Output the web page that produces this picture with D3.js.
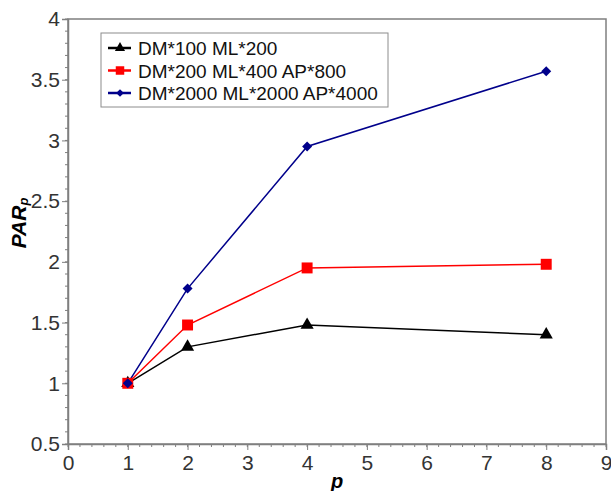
<!DOCTYPE html>
<html>
<head>
<meta charset="utf-8">
<script src="https://cdnjs.cloudflare.com/ajax/libs/d3/7.8.5/d3.min.js"></script>
<style>
  body { margin: 0; background: #fff; }
  text { font-family: "Liberation Sans", Arial, sans-serif; }
</style>
</head>
<body>
<div id="chart"></div>
<script>
// data
let pValues = [1, 2, 4, 8]
let seriesNames = ["DM*100 ML*200", "DM*200 ML*400 AP*800", "DM*2000 ML*2000 AP*4000"]
let seriesColors = ["#000000", "#ff0000", "#00008b"]
let blackVals = [1, 1.30, 1.48, 1.40]
let redVals = [1, 1.48, 1.95, 1.98]
let blueVals = [1, 1.78, 2.95, 3.57]
let xTicks = [0, 1, 2, 3, 4, 5, 6, 7, 8, 9]
let yTicks = [0.5, 1, 1.5, 2, 2.5, 3, 3.5, 4]

let width = 611, height = 491
let margin = {left: 68, top: 19, right: 5, bottom: 47}

let svg = d3.select("#chart").append("svg")
  .attr("width", width).attr("height", height)

let x = d3.scaleLinear().domain([0, 9]).range([margin.left, width - margin.right])
let y = d3.scaleLinear().domain([0.5, 4]).range([height - margin.bottom, margin.top])

let axisColor = "#7f7f7f"

// frame
svg.append("rect")
  .attr("x", x(0)).attr("y", y(4))
  .attr("width", x(9) - x(0)).attr("height", y(0.5) - y(4))
  .attr("fill", "none").attr("stroke", axisColor).attr("stroke-width", 1.5)

// minor ticks
let xMinor = d3.range(0, 9.001, 0.2)
let yMinor = d3.range(0.5, 4.001, 0.1)
svg.append("g").selectAll("line").data(xMinor).join("line")
  .attr("x1", d => x(d)).attr("x2", d => x(d))
  .attr("y1", y(0.5)).attr("y2", y(0.5) + 3)
  .attr("stroke", axisColor)
svg.append("g").selectAll("line").data(yMinor).join("line")
  .attr("x1", x(0) - 3).attr("x2", x(0))
  .attr("y1", d => y(d)).attr("y2", d => y(d))
  .attr("stroke", axisColor)

// axes
let xAxis = svg.append("g")
  .attr("transform", `translate(0,${y(0.5)})`)
  .call(d3.axisBottom(x).tickValues(xTicks).tickSize(6).tickPadding(5).tickFormat(d3.format("d")))
let yAxis = svg.append("g")
  .attr("transform", `translate(${x(0)},0)`)
  .call(d3.axisLeft(y).tickValues(yTicks).tickSize(6).tickPadding(2).tickFormat(d => d))
for (let g of [xAxis, yAxis]) {
  g.select(".domain").attr("stroke", axisColor).attr("stroke-width", 1.5)
  g.selectAll(".tick line").attr("stroke", axisColor)
  g.selectAll(".tick text").attr("fill", "#333").style("font-size", "21px")
    .style("font-family", "Liberation Sans, Arial, sans-serif")
}

// axis titles
svg.append("text")
  .attr("x", x(4.5)).attr("y", 488)
  .attr("text-anchor", "middle")
  .style("font-size", "20px").style("font-weight", "bold").style("font-style", "italic")
  .text("p")
let yt = svg.append("text")
  .attr("transform", "translate(26,223) rotate(-90)")
  .attr("text-anchor", "middle")
  .style("font-size", "21px").style("font-weight", "bold").style("font-style", "italic")
yt.append("tspan").text("PAR")
yt.append("tspan").attr("dy", 2).style("font-size", "13px").text("p")

// series
let allSeries = [blackVals, redVals, blueVals]
let symbols = [d3.symbolTriangle, d3.symbolSquare, d3.symbolSquare]
let symRot = [0, 0, 45]
let symSizes = [75, 120, 50]
let line = d3.line().x((d, i) => x(pValues[i])).y(d => y(d))

allSeries.forEach((vals, k) => {
  svg.append("path").datum(vals)
    .attr("d", line).attr("fill", "none")
    .attr("stroke", seriesColors[k]).attr("stroke-width", 1.5)
})
allSeries.forEach((vals, k) => {
  svg.append("g").selectAll("path").data(vals).join("path")
    .attr("transform", (d, i) => `translate(${x(pValues[i])},${y(d)}) rotate(${symRot[k]})`)
    .attr("d", d3.symbol().type(symbols[k]).size(symSizes[k]))
    .attr("fill", seriesColors[k])
})

// legend
let legend = svg.append("g")
legend.append("rect")
  .attr("x", 101).attr("y", 33).attr("width", 287).attr("height", 74)
  .attr("fill", "#fff").attr("stroke", "#8c8c8c")
seriesNames.forEach((name, k) => {
  let ly = 48 + k * 22.5
  legend.append("line")
    .attr("x1", 108).attr("x2", 131).attr("y1", ly).attr("y2", ly)
    .attr("stroke", seriesColors[k]).attr("stroke-width", 2.5)
  legend.append("path")
    .attr("transform", `translate(120,${ly}) rotate(${symRot[k]})`)
    .attr("d", d3.symbol().type(symbols[k]).size(symSizes[k] * 0.6))
    .attr("fill", seriesColors[k])
  legend.append("text")
    .attr("x", 138).attr("y", ly + 7)
    .style("font-size", "19px").attr("fill", "#111")
    .text(name)
})
</script>
</body>
</html>
